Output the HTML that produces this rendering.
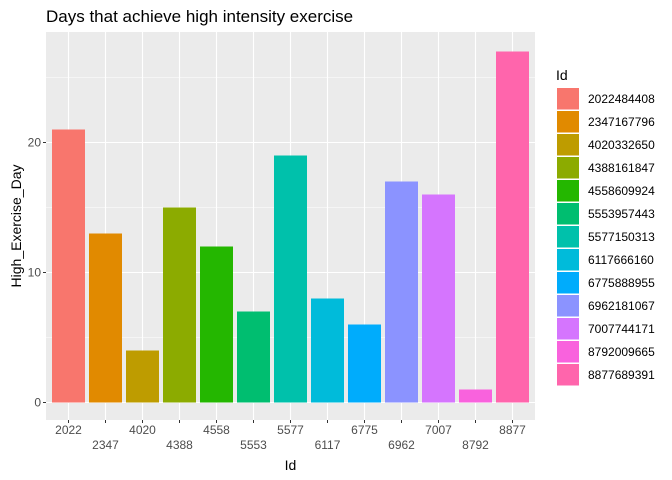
<!DOCTYPE html>
<html><head><meta charset="utf-8"><style>body{margin:0;background:#fff}svg{display:block;font-family:"Liberation Sans",Arial,sans-serif}</style></head>
<body>
<svg id="c" width="672" height="480" xmlns="http://www.w3.org/2000/svg"></svg>
<script>
const categories=["2022","2347","4020","4388","4558","5553","5577","6117","6775","6962","7007","8792","8877"];
const legendLabels=["2022484408","2347167796","4020332650","4388161847","4558609924","5553957443","5577150313","6117666160","6775888955","6962181067","7007744171","8792009665","8877689391"];
const values=[21,13,4,15,12,7,19,8,6,17,16,1,27];
const colors=["#F8766D","#E18A00","#BE9C00","#8CAB00","#24B700","#00BE70","#00C1AB","#00BBDA","#00ACFC","#8B93FF","#D575FE","#F962DD","#FF65AC"];
const yTicks=[0,10,20];
const yMinor=[5,15,25];
const NS="http://www.w3.org/2000/svg";
const svg=document.getElementById('c');
function mk(t,a,p){const e=document.createElementNS(NS,t);for(const k in a)e.setAttribute(k,a[k]);(p||svg).appendChild(e);return e;}
const pL=46,pR=535,pT=32,pB=420;
const step=37,x0=68.5;
const xs=i=>x0+i*step;
const ys=v=>402.5-v*13;
const bg=mk('rect',{x:pL,y:pT,width:pR-pL,height:pB-pT,fill:'#EBEBEB'});


yMinor.forEach(v=>{const l=mk('line',{x1:pL,x2:pR,y1:ys(v),y2:ys(v),stroke:'#fff','stroke-width':0.5});

});
yTicks.forEach(v=>{const l=mk('line',{x1:pL,x2:pR,y1:ys(v),y2:ys(v),stroke:'#fff','stroke-width':1.1});


const t=mk('line',{x1:pL-3,x2:pL,y1:ys(v),y2:ys(v),stroke:'#333','stroke-width':1});


const tx=mk('text',{x:pL-5,y:ys(v)+4,'text-anchor':'end','font-size':12,fill:'#4D4D4D'});tx.textContent=v;

});
categories.forEach((c,i)=>{const l=mk('line',{x1:xs(i),x2:xs(i),y1:pT,y2:pB,stroke:'#fff','stroke-width':1.1});

});
categories.forEach((c,i)=>{
const b=mk('rect',{x:xs(i)-16.5,y:ys(values[i]),width:33,height:ys(0)-ys(values[i]),fill:colors[i]});


const t=mk('line',{x1:xs(i),x2:xs(i),y1:pB,y2:pB+3,stroke:'#333','stroke-width':1});


const tx=mk('text',{x:xs(i),y:(i%2?449:434),'text-anchor':'middle','font-size':12,fill:'#4D4D4D'});tx.textContent=c;

});
const tt=mk('text',{x:46,y:22,'font-size':17,fill:'#000'});tt.textContent='Days that achieve high intensity exercise';


const xt=mk('text',{x:290.5,y:470,'text-anchor':'middle','font-size':14,fill:'#000'});xt.textContent='Id';


const yt=mk('text',{x:0,y:0,'text-anchor':'middle','font-size':14,fill:'#000',transform:'translate(21,226) rotate(-90)'});yt.textContent='High_Exercise_Day';


const lt=mk('text',{x:556,y:80,'font-size':14,fill:'#000'});lt.textContent='Id';


legendLabels.forEach((s,i)=>{const y=88+i*23;
const k=mk('rect',{x:557,y:y,width:22,height:21.5,fill:colors[i]});


const tx=mk('text',{x:588,y:y+15,'font-size':12,fill:'#000'});tx.textContent=s;

});
</script>
</body></html>
